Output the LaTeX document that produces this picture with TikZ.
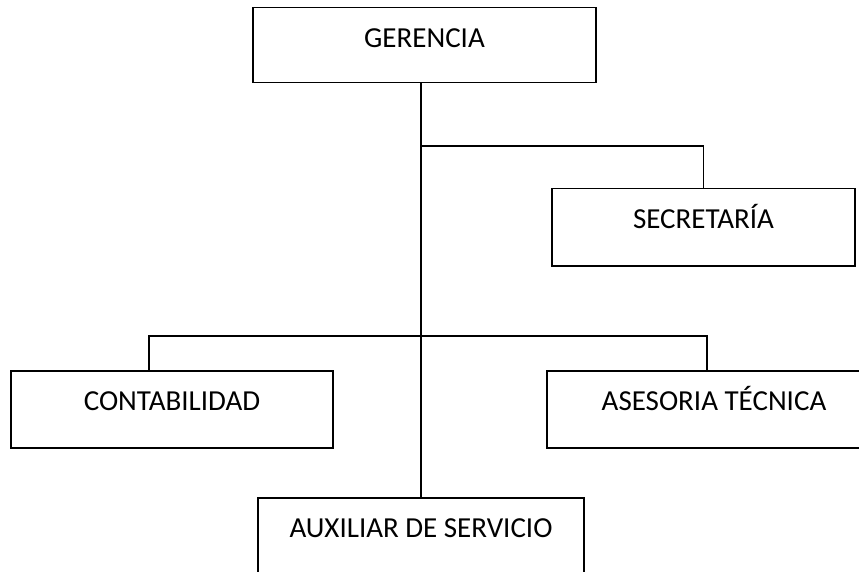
\documentclass[tikz,border=0pt]{standalone}
\usepackage{fontspec}
\setmainfont{Carlito}
\usepackage{tikz}
\usetikzlibrary{positioning}

\begin{document}
\begin{tikzpicture}[x=1pt, y=-1pt, line width=1.5pt,
    unitbox/.style={draw, inner sep=0pt, anchor=north,
        font=\fontsize{29}{34}\selectfont,
        text height=39.3pt, text depth=37.7pt}]
    \useasboundingbox (0, 0) rectangle (859, 572); % page size
    \node[unitbox, minimum width=343pt, text depth=35.7pt] (ger) at (424.5, 7) {GERENCIA};
    \node[unitbox, minimum width=303pt] (sec) at (703.5, 188) {SECRETARÍA};
    \node[unitbox, minimum width=322pt] (cont) at (172, 370) {CONTABILIDAD};
    \node[unitbox, minimum width=334pt] (ases) at (714, 370) {ASESORIA TÉCNICA};
    \node[unitbox, minimum width=326pt] (aux) at (421, 497) {AUXILIAR DE SERVICIO};
    \coordinate (secbus) at (421, 146);
    \coordinate (busL) at (149, 336);
    \coordinate (busR) at (707, 336);
    \draw (aux.north |- ger.south) -- (aux.north);
    \draw (secbus) -| (sec.north);
    \draw (cont.north -| busL) -- (busL) -- (busR) -- (ases.north -| busR);
\end{tikzpicture}
\end{document}
